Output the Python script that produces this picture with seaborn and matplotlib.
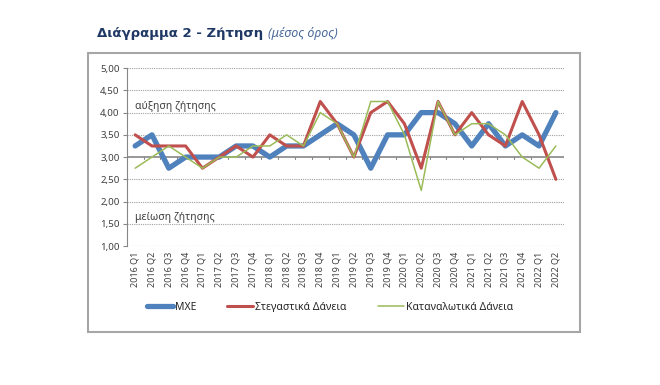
import pandas as pd
import matplotlib.pyplot as plt
import matplotlib.patches as mpatches
import seaborn as sns

# δεδομένα (μέσος όρος ζήτησης ανά τρίμηνο)
quarters = ['2016 Q1', '2016 Q2', '2016 Q3', '2016 Q4',
            '2017 Q1', '2017 Q2', '2017 Q3', '2017 Q4',
            '2018 Q1', '2018 Q2', '2018 Q3', '2018 Q4',
            '2019 Q1', '2019 Q2', '2019 Q3', '2019 Q4',
            '2020 Q1', '2020 Q2', '2020 Q3', '2020 Q4',
            '2021 Q1', '2021 Q2', '2021 Q3', '2021 Q4',
            '2022 Q1', '2022 Q2']

mxe = [3.25, 3.5, 2.75, 3.0, 3.0, 3.0, 3.25, 3.25, 3.0, 3.25, 3.25, 3.5, 3.75,
       3.5, 2.75, 3.5, 3.5, 4.0, 4.0, 3.75, 3.25, 3.75, 3.25, 3.5, 3.25, 4.0]
stegastika = [3.5, 3.25, 3.25, 3.25, 2.75, 3.0, 3.25, 3.0, 3.5, 3.25, 3.25, 4.25, 3.75,
              3.0, 4.0, 4.25, 3.75, 2.75, 4.25, 3.5, 4.0, 3.5, 3.25, 4.25, 3.5, 2.5]
katanalotika = [2.75, 3.0, 3.25, 3.0, 2.75, 3.0, 3.0, 3.25, 3.25, 3.5, 3.25, 4.0, 3.75,
                3.0, 4.25, 4.25, 3.5, 2.25, 4.25, 3.5, 3.75, 3.75, 3.5, 3.0, 2.75, 3.25]

y_ticks = [1.0, 1.5, 2.0, 2.5, 3.0, 3.5, 4.0, 4.5, 5.0]

df = pd.DataFrame({'quarter': quarters, 'ΜΧΕ': mxe,
                   'Στεγαστικά Δάνεια': stegastika,
                   'Καταναλωτικά Δάνεια': katanalotika})

sns.set_style('white')
plt.rcParams['font.family'] = ['Noto Sans', 'DejaVu Sans']

fig = plt.figure(figsize=(6.6, 3.85), dpi=100)
ax = fig.add_axes([0.192, 0.361, 0.663, 0.462])

# πλαίσιο γύρω από το διάγραμμα
fig.patches.append(mpatches.Rectangle((88 / 660, 1 - 332 / 385), 492 / 660, 279 / 385,
                                      transform=fig.transFigure, fill=False,
                                      edgecolor='#a6a6a6', linewidth=1.5))

sns.lineplot(data=df, x='quarter', y='Στεγαστικά Δάνεια', ax=ax, color='#c0504d',
             linewidth=2.2, label='Στεγαστικά Δάνεια', zorder=3)
sns.lineplot(data=df, x='quarter', y='Καταναλωτικά Δάνεια', ax=ax, color='#9bbb59',
             linewidth=1.1, label='Καταναλωτικά Δάνεια', zorder=4)
sns.lineplot(data=df, x='quarter', y='ΜΧΕ', ax=ax, color='#4f81bd',
             linewidth=3.8, label='ΜΧΕ', zorder=2)

ax.set_ylim(1, 5)
ax.set_xlim(-0.5, len(quarters) - 0.5)
ax.set_yticks(y_ticks)
ax.set_yticklabels([f'{v:.2f}'.replace('.', ',') for v in y_ticks], fontsize=7, color='#404040')
ax.set_xticks(range(len(quarters)))
ax.set_xticklabels(quarters, rotation=90, fontsize=6.5, color='#404040')
ax.tick_params(axis='x', length=0, pad=4)
ax.tick_params(axis='y', length=3, color='#868686', pad=2, left=True)

for v in y_ticks:
    if v != 3.0:
        ax.axhline(v, color='#a0a0a0', linestyle=(0, (1, 1)), linewidth=0.8, zorder=0)
ax.axhline(3.0, color='#868686', linewidth=1.2, zorder=1)
for i in range(len(quarters) + 1):
    ax.plot([i - 0.5, i - 0.5], [2.96, 3.0], color='#868686', linewidth=0.8, zorder=1)

sns.despine(ax=ax, top=True, right=True, bottom=True)
ax.spines['left'].set_color('#868686')
ax.set_xlabel('')
ax.set_ylabel('')

ax.text(0.0, 4.02, 'αύξηση ζήτησης', fontsize=7.5, color='#404040', va='bottom')
ax.text(0.0, 1.52, 'μείωση ζήτησης', fontsize=7.5, color='#404040', va='bottom')

handles, labels = ax.get_legend_handles_labels()
order = [2, 0, 1]
ax.get_legend().remove()
fig.legend([handles[i] for i in order], [labels[i] for i in order], ncol=3,
           loc='center', bbox_to_anchor=(0.5, 1 - 307 / 385), frameon=False,
           fontsize=7.5, handlelength=2.5, columnspacing=3, handletextpad=0.2)

# τίτλος
title = fig.text(97 / 660, 1 - 33 / 385, 'Διάγραμμα 2 - Ζήτηση', fontsize=9.5,
                 fontweight='bold', color='#1f3864', va='center',
                 family=['DejaVu Sans'])
fig.canvas.draw()
bb = title.get_window_extent()
fig.text((bb.x1 + 5) / 660, 1 - 33 / 385, '(μέσος όρος)', fontsize=9, style='italic',
         color='#4a6a9a', va='center')

fig.savefig('out.png', dpi=100)
